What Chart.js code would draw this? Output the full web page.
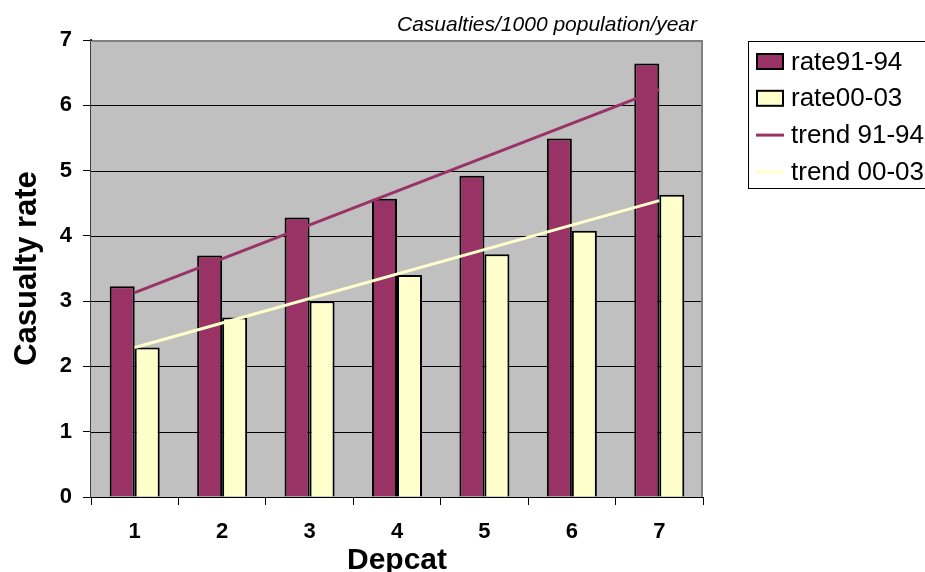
<!DOCTYPE html>
<html>
<head>
<meta charset="utf-8">
<script src="https://cdn.jsdelivr.net/npm/chart.js@4/dist/chart.umd.min.js"></script>
<style>
  html, body { margin: 0; padding: 0; background: #ffffff; }
  #wrap { width: 925px; height: 572px; }
</style>
</head>
<body>
<div id="wrap"><canvas id="chart" width="925" height="572"></canvas></div>
<script>
// Deprivation categories on the x axis
const categories = ['1', '2', '3', '4', '5', '6', '7'];

// Casualties per 1000 population per year
const rate9194 = [3.23, 3.70, 4.28, 4.57, 4.92, 5.49, 6.64];
const rate0003 = [2.29, 2.75, 3.00, 3.40, 3.72, 4.08, 4.63];

// Linear trend lines: values at the first and last category, joined straight
const trend9194 = [3.13, null, null, null, null, null, 6.24];
const trend0003 = [2.29, null, null, null, null, null, 4.54];

const seriesNames = ['rate91-94', 'rate00-03', 'trend 91-94', 'trend 00-03'];
const subtitleText = 'Casualties/1000 population/year';
const xTitle = 'Depcat';
const yTitle = 'Casualty rate';

const PURPLE = '#993366';
const CREAM = '#FFFFCC';
const FONT = 'Arial, "Liberation Sans", sans-serif';

// Grey plot background and the frame on its top and right sides
const plotFrame = {
  id: 'plotFrame',
  beforeDatasetsDraw(chart) {
    const a = chart.chartArea;
    const ctx = chart.ctx;
    ctx.save();
    ctx.fillStyle = '#C0C0C0';
    ctx.fillRect(a.left, a.top, a.right - a.left, a.bottom - a.top);
    // horizontal grid on top of the fill
    const y = chart.scales.y;
    ctx.strokeStyle = '#000000';
    ctx.lineWidth = 1;
    y.ticks.forEach(t => {
      const py = Math.round(y.getPixelForValue(t.value)) + 0.5;
      ctx.beginPath();
      ctx.moveTo(a.left, py);
      ctx.lineTo(a.right, py);
      ctx.stroke();
    });
    ctx.restore();
  },
  afterDraw(chart) {
    const a = chart.chartArea;
    const ctx = chart.ctx;
    ctx.save();
    ctx.strokeStyle = '#808080';
    ctx.lineWidth = 2;
    ctx.beginPath();
    ctx.moveTo(a.left + 1, a.top + 1);
    ctx.lineTo(a.right - 1, a.top + 1);
    ctx.lineTo(a.right - 1, a.bottom);
    ctx.stroke();

    // units note above the plot
    ctx.fillStyle = '#000000';
    ctx.font = 'italic 21px ' + FONT;
    ctx.textAlign = 'right';
    ctx.textBaseline = 'alphabetic';
    ctx.fillText(subtitleText, 697, 30.5);
    ctx.restore();
  }
};

// Boxed legend at the right
const boxLegend = {
  id: 'boxLegend',
  afterDraw(chart) {
    const ctx = chart.ctx;
    const left = 748, top = 41, bottom = 188;
    ctx.save();
    ctx.fillStyle = '#ffffff';
    ctx.fillRect(left, top, 925 - left + 5, bottom - top);
    ctx.strokeStyle = '#000000';
    ctx.lineWidth = 1;
    ctx.strokeRect(left + 0.5, top + 0.5, 925 - left + 5, bottom - top);
    ctx.font = '26px ' + FONT;
    ctx.textAlign = 'left';
    ctx.textBaseline = 'middle';
    chart.data.datasets.forEach((ds, i) => {
      const cy = 61.5 + i * 36.8;
      if (ds.type === 'line') {
        ctx.strokeStyle = ds.borderColor;
        ctx.lineWidth = 3;
        ctx.beginPath();
        ctx.moveTo(756, cy);
        ctx.lineTo(784, cy);
        ctx.stroke();
      } else {
        ctx.fillStyle = ds.backgroundColor;
        ctx.fillRect(756, cy - 8.5, 28, 17);
        ctx.strokeStyle = '#000000';
        ctx.lineWidth = 2;
        ctx.strokeRect(757, cy - 7.5, 26, 15);
      }
      ctx.fillStyle = '#000000';
      ctx.fillText(ds.label, 791, cy + 1);
    });
    ctx.restore();
  }
};

new Chart(document.getElementById('chart'), {
  data: {
    labels: categories,
    datasets: [
      {
        type: 'bar', label: seriesNames[0], data: rate9194,
        backgroundColor: PURPLE, borderColor: '#000000', borderWidth: 2,
        categoryPercentage: 0.572, barPercentage: 1.0, order: 2
      },
      {
        type: 'bar', label: seriesNames[1], data: rate0003,
        backgroundColor: CREAM, borderColor: '#000000', borderWidth: 2,
        categoryPercentage: 0.572, barPercentage: 1.0, order: 2
      },
      {
        type: 'line', label: seriesNames[2], data: trend9194,
        borderColor: PURPLE, borderWidth: 3, pointRadius: 0,
        spanGaps: true, tension: 0, order: 1
      },
      {
        type: 'line', label: seriesNames[3], data: trend0003,
        borderColor: CREAM, borderWidth: 3, pointRadius: 0,
        spanGaps: true, tension: 0, order: 1
      }
    ]
  },
  options: {
    responsive: false,
    devicePixelRatio: 1,
    animation: false,
    layout: { padding: { left: 0, top: 40, right: 222, bottom: 0 } },
    plugins: {
      legend: { display: false },
      tooltip: { enabled: false }
    },
    scales: {
      x: {
        type: 'category',
        offset: true,
        grid: {
          offset: true, drawOnChartArea: false, drawTicks: true,
          tickLength: 8, color: '#000000', lineWidth: 1
        },
        border: { display: true, color: '#000000', width: 1 },
        ticks: {
          color: '#000000', padding: 14, maxRotation: 0,
          font: { family: FONT, size: 22, weight: 'bold' }
        },
        title: {
          display: true, text: xTitle, color: '#000000',
          font: { family: FONT, size: 30, weight: 'bold', lineHeight: 0.77 },
          padding: { top: 0, bottom: 0 }
        },
        afterFit(scale) { scale.height = 75; }
      },
      y: {
        min: 0, max: 7,
        ticks: {
          stepSize: 1, color: '#000000', padding: 11,
          font: { family: FONT, size: 22, weight: 'bold' }
        },
        grid: {
          drawOnChartArea: false, drawTicks: true, tickLength: 8,
          color: '#000000', lineWidth: 1
        },
        border: { display: true, color: '#404040', width: 2 },
        title: {
          display: true, text: yTitle, color: '#000000',
          font: { family: FONT, size: 31, weight: 'bold', lineHeight: 1.2 },
          padding: { top: 9, bottom: 0 }
        },
        afterFit(scale) { scale.width = 91; }
      }
    }
  },
  plugins: [plotFrame, boxLegend]
});
</script>
</body>
</html>
